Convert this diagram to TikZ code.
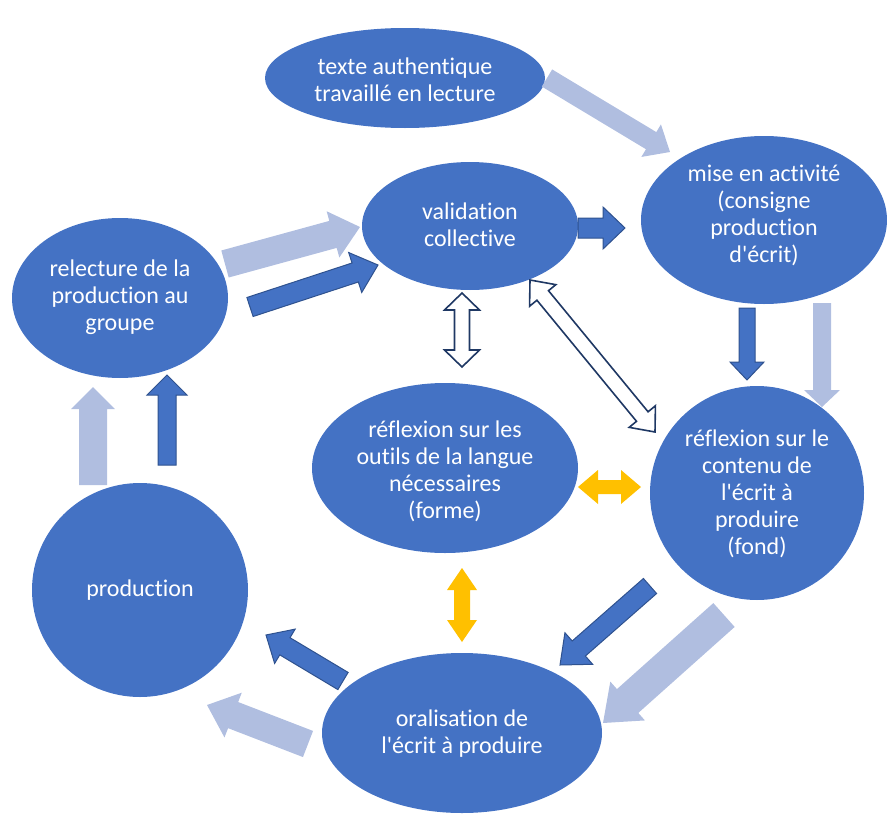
\documentclass[tikz,border=0pt]{standalone}
\usepackage{fontspec}
\setmainfont{Carlito}[Ligatures=NoCommon]
\usetikzlibrary{shapes.geometric,calc}
\definecolor{blobblue}{HTML}{4472C4}
\definecolor{lightarr}{HTML}{B0BEE0}
\definecolor{darkedge}{HTML}{2F528F}
\definecolor{navyedge}{HTML}{1F3864}
\definecolor{goldarr}{HTML}{FFC000}
% single block arrow: style, from, to, shaft half width, head half width, head length
\newcommand\blockarrow[6]{%
  \coordinate (ba-h) at ($(#3)!#6!(#2)$);
  \path[#1] ($(#2)!#4!90:(#3)$) -- ($(ba-h)!#4!-90:(#2)$) -- ($(ba-h)!#5!-90:(#2)$)
    -- (#3) -- ($(ba-h)!#5!90:(#2)$) -- ($(ba-h)!#4!90:(#2)$) -- ($(#2)!#4!-90:(#3)$) -- cycle;
}
% double block arrow
\newcommand\dblarrow[6]{%
  \coordinate (da-a) at ($(#2)!#6!(#3)$);
  \coordinate (da-b) at ($(#3)!#6!(#2)$);
  \path[#1] (#2) -- ($(da-a)!#5!90:(#3)$) -- ($(da-a)!#4!90:(#3)$) -- ($(da-b)!#4!-90:(#2)$)
    -- ($(da-b)!#5!-90:(#2)$) -- (#3) -- ($(da-b)!#5!90:(#2)$) -- ($(da-b)!#4!90:(#2)$)
    -- ($(da-a)!#4!-90:(#3)$) -- ($(da-a)!#5!-90:(#3)$) -- cycle;
}
\newcommand\apos{\textquotesingle}
\tikzset{
  blob/.style={ellipse, fill=blobblue, draw=none, inner sep=0pt},
  blobtext/.style={text=white, align=center, font=\fontsize{24}{27}\selectfont},
  lightfill/.style={fill=lightarr},
  darkfill/.style={fill=blobblue, draw=darkedge, line width=1pt, line join=miter},
  hollow/.style={fill=white, draw=navyedge, line width=1.6pt, line join=miter},
  goldfill/.style={fill=goldarr},
}
\begin{document}
\begin{tikzpicture}[x=1pt,y=-1pt]
\useasboundingbox (0,0) rectangle (887,814);
% ellipses
\node[blob, minimum width=280pt, minimum height=100pt] (texte) at (405,78) {};
\node[blob, minimum width=246pt, minimum height=168pt] (mise) at (764,220) {};
\node[blob, minimum width=216pt, minimum height=128pt] (valid) at (470,226) {};
\node[blob, minimum width=216pt, minimum height=160pt] (relect) at (120,298) {};
\node[blob, minimum width=266pt, minimum height=170pt] (outils) at (445,468) {};
\node[blob, minimum width=214pt, minimum height=214pt] (contenu) at (757,493) {};
\node[blob, minimum width=216pt, minimum height=214pt] (prod) at (140,590) {};
\node[blob, minimum width=280pt, minimum height=160pt] (oral) at (462,733) {};
% texts
\node[blobtext] (t-texte) at (405,80) {texte authentique\\travaillé en lecture};
\node[blobtext] (t-mise) at (764,215) {mise en activité\\(consigne\\production\\d\apos écrit)};
\node[blobtext] (t-valid) at (470,225) {validation\\collective};
\node[blobtext] (t-relect) at (120,297) {relecture de la\\production au\\groupe};
\node[blobtext] (t-outils) at (445,471) {réflexion sur les\\outils de la langue\\nécessaires\\(forme)};
\node[blobtext] (t-contenu) at (757,494) {réflexion sur le\\contenu de\\l\apos écrit à\\produire\\(fond)};
\node[blobtext] (t-prod) at (140,590) {production};
\node[blobtext] (t-oral) at (462,734) {oralisation de\\l\apos écrit à produire};
% arrow end points
\coordinate (a1) at (547,78);  \coordinate (a2) at (670,152);
\coordinate (b1) at (225,264); \coordinate (b2) at (360,227);
\coordinate (c1) at (250,307); \coordinate (c2) at (378,265);
\coordinate (d1) at (578,228); \coordinate (d2) at (625,228);
\coordinate (e1) at (747,308); \coordinate (e2) at (747,380);
\coordinate (f1) at (822,303); \coordinate (f2) at (822,407);
\coordinate (g1) at (462,293); \coordinate (g2) at (462,367);
\coordinate (h1) at (530,280); \coordinate (h2) at (655,432);
\coordinate (i1) at (578,487); \coordinate (i2) at (641,487);
\coordinate (j1) at (462,568); \coordinate (j2) at (462,642);
\coordinate (k1) at (650,586); \coordinate (k2) at (560,665);
\coordinate (l1) at (724,615); \coordinate (l2) at (603,723);
\coordinate (m1) at (343,681); \coordinate (m2) at (266,635);
\coordinate (n1) at (308,744); \coordinate (n2) at (207,705);
\coordinate (o1) at (93,485);  \coordinate (o2) at (93,387);
\coordinate (p1) at (167,465); \coordinate (p2) at (167,375);
% arrows
\blockarrow{lightfill}{a1}{a2}{10pt}{19pt}{22pt}
\blockarrow{lightfill}{b1}{b2}{14pt}{24pt}{28pt}
\blockarrow{darkfill}{c1}{c2}{10pt}{21pt}{24pt}
\blockarrow{darkfill}{d1}{d2}{10pt}{21pt}{22pt}
\blockarrow{darkfill}{e1}{e2}{8pt}{17pt}{18pt}
\blockarrow{lightfill}{f1}{f2}{9pt}{18pt}{17pt}
\dblarrow{hollow}{g1}{g2}{7.5pt}{17.5pt}{17pt}
\dblarrow{hollow}{h1}{h2}{7.5pt}{17pt}{20pt}
\dblarrow{goldfill}{i1}{i2}{7pt}{17pt}{20pt}
\dblarrow{goldfill}{j1}{j2}{8pt}{15pt}{22pt}
\blockarrow{darkfill}{k1}{k2}{10pt}{21pt}{25pt}
\blockarrow{lightfill}{l1}{l2}{16pt}{26pt}{33pt}
\blockarrow{darkfill}{m1}{m2}{10pt}{20pt}{22pt}
\blockarrow{lightfill}{n1}{n2}{14pt}{24pt}{28pt}
\blockarrow{lightfill}{o1}{o2}{14pt}{22pt}{22pt}
\blockarrow{darkfill}{p1}{p2}{9pt}{20pt}{20pt}
\end{tikzpicture}
\end{document}
